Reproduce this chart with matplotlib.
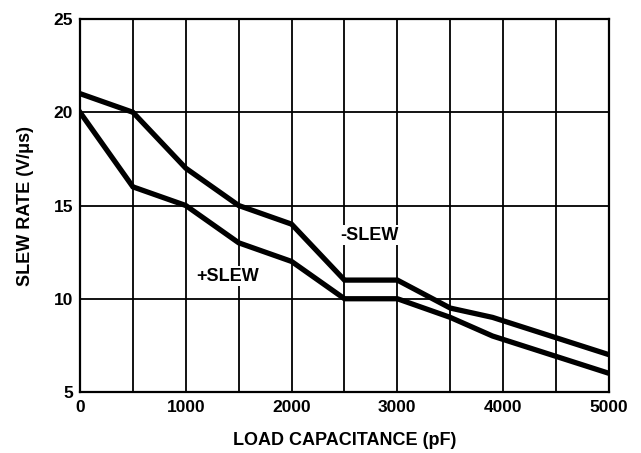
import matplotlib.pyplot as plt

plt.rcParams['font.family'] = ['Liberation Sans', 'DejaVu Sans']
plt.rcParams['font.weight'] = 'bold'

# datos
carga_pf = [0, 500, 1000, 1500, 2000, 2500, 3000, 3500, 3900, 4450, 5000]
slew_neg = [21, 20, 17, 15, 14, 11, 11, 9.5, 9, 8, 7]
slew_pos = [20, 16, 15, 13, 12, 10, 10, 9, 8, 7, 6]

fig = plt.figure(figsize=(6.41, 4.53), dpi=100)
ax = fig.add_axes([0.1248, 0.1347, 0.8252, 0.8233])

ax.set_xlim(0, 5000)
ax.set_ylim(5, 25)
ax.set_xticks(range(0, 5001, 500))
ax.set_yticks([5, 10, 15, 20, 25])
ax.set_xticklabels(['0', '', '1000', '', '2000', '', '3000', '', '4000', '', '5000'])
ax.grid(True, color='black', linewidth=1.3)
ax.tick_params(length=0, labelsize=12.5)
ax.tick_params(axis='x', pad=6)
ax.tick_params(axis='y', pad=5)
for s in ax.spines.values():
    s.set_linewidth(1.6)

ax.plot(carga_pf, slew_neg, color='black', linewidth=3.8, solid_joinstyle='miter', zorder=3)
ax.plot(carga_pf, slew_pos, color='black', linewidth=3.8, solid_joinstyle='miter', zorder=3)

caja = dict(facecolor='white', edgecolor='none', pad=1)
ax.text(2740, 13.4, '-SLEW', ha='center', va='center', fontsize=13, fontweight='bold', bbox=caja, zorder=4)
ax.text(1400, 11.2, '+SLEW', ha='center', va='center', fontsize=13, fontweight='bold', bbox=caja, zorder=4)

ax.set_xlabel('LOAD CAPACITANCE (pF)', fontsize=13, fontweight='bold', labelpad=12)
ax.set_ylabel('SLEW RATE (V/\u03bcs)', fontsize=13, fontweight='bold', labelpad=14)

fig.savefig('out.png', dpi=100)
